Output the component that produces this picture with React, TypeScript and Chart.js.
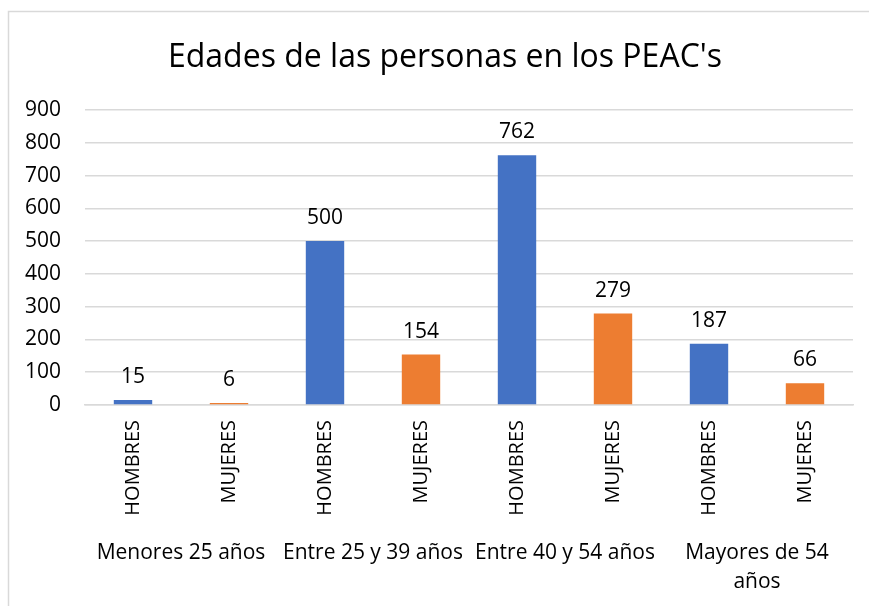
import React, { useEffect, useRef } from 'react';
import { Chart, registerables } from 'chart.js';

Chart.register(...registerables);

const chartTitle = "Edades de las personas en los PEAC's";
const categories = ['HOMBRES', 'MUJERES', 'HOMBRES', 'MUJERES', 'HOMBRES', 'MUJERES', 'HOMBRES', 'MUJERES'];
const groups: (string | string[])[] = ['Menores 25 años', 'Entre 25 y 39 años', 'Entre 40 y 54 años', ['Mayores de 54', 'años']];
const values = [15, 6, 500, 154, 762, 279, 187, 66];
const barColors = ['#4472C4', '#ED7D31', '#4472C4', '#ED7D31', '#4472C4', '#ED7D31', '#4472C4', '#ED7D31'];
const yMin = 0;
const yMax = 900;
const yStep = 100;

const FONT = '"Open Sans", "Noto Sans", sans-serif';
const TEXT = '#000000';
const GRID = '#d9d9d9';

const decor = {
  id: 'decor',
  beforeDraw(chart: any) {
    const ctx = chart.ctx;
    ctx.save();
    ctx.fillStyle = '#ffffff';
    ctx.fillRect(0, 0, chart.width, chart.height);
    ctx.strokeStyle = GRID;
    ctx.lineWidth = 1.5;
    ctx.strokeRect(8.5, 11.5, chart.width + 40, chart.height + 40);
    ctx.fillStyle = TEXT;
    ctx.font = `32px ${FONT}`;
    ctx.textAlign = 'center';
    ctx.textBaseline = 'alphabetic';
    ctx.fillText(chartTitle, 445, 67);
    ctx.restore();
  },
  afterDatasetsDraw(chart: any) {
    const ctx = chart.ctx;
    const meta = chart.getDatasetMeta(0);
    ctx.save();
    ctx.fillStyle = TEXT;
    ctx.font = `21px ${FONT}`;
    ctx.textAlign = 'center';
    ctx.textBaseline = 'alphabetic';
    meta.data.forEach((bar: any, i: number) => {
      ctx.fillText(String(values[i]), bar.x, bar.y - 17);
    });
    ctx.restore();
  },
};

export default function App() {
  const ref = useRef<HTMLCanvasElement | null>(null);
  useEffect(() => {
    if (!ref.current) return;
    const chart = new Chart(ref.current, {
      type: 'bar',
      data: {
        labels: categories,
        datasets: [
          {
            data: values,
            backgroundColor: barColors,
            borderWidth: 0,
            categoryPercentage: 1,
            barPercentage: 0.4,
            xAxisID: 'x',
          },
        ],
      },
      options: {
        responsive: false,
        animation: false,
        devicePixelRatio: 1,
        layout: { padding: { top: 110, right: 16, left: 0, bottom: 0 } },
        plugins: {
          legend: { display: false },
          title: { display: false },
          tooltip: { enabled: false },
        },
        scales: {
          y: {
            min: yMin,
            max: yMax,
            ticks: { stepSize: yStep, color: TEXT, font: { family: FONT, size: 21 }, padding: 24 },
            grid: { color: GRID, lineWidth: 1.5, drawTicks: false },
            border: { display: false },
            afterFit(scale: any) {
              scale.width = 85;
            },
          },
          x: {
            weight: 0,
            ticks: {
              color: TEXT,
              font: { family: FONT, size: 20 },
              minRotation: 90,
              maxRotation: 90,
              autoSkip: false,
              padding: 15,
            },
            grid: { display: false, drawTicks: false },
            border: { display: true, color: GRID, width: 1.5 },
            afterFit(scale: any) {
              scale.height = 120;
            },
          },
          x2: {
            type: 'category',
            position: 'bottom',
            weight: 1,
            labels: groups as any,
            offset: true,
            ticks: {
              color: TEXT,
              font: { family: FONT, size: 21, lineHeight: 1.4 },
              maxRotation: 0,
              minRotation: 0,
              autoSkip: false,
              padding: 13,
            },
            grid: { display: false, drawTicks: false },
            border: { display: false },
            afterFit(scale: any) {
              scale.height = 81;
            },
          },
        },
      } as any,
      plugins: [decor],
    });
    return () => chart.destroy();
  }, []);
  return (
    <div style={{ position: 'absolute', left: 0, top: 0, width: 869, height: 606, background: '#fff' }}>
      <canvas ref={ref} width={869} height={606} style={{ display: 'block' }} />
    </div>
  );
}
